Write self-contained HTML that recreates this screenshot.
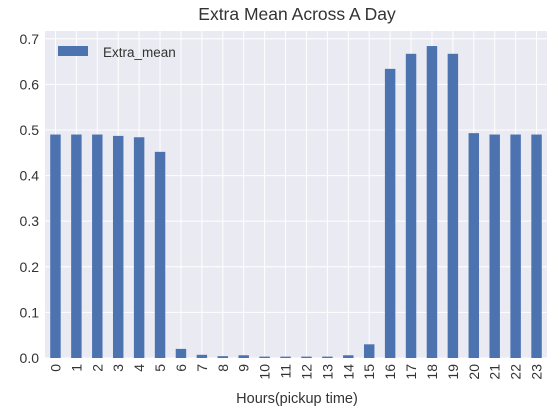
<!DOCTYPE html>
<html><head><meta charset="utf-8"><style>
body{margin:0;background:#fff;width:558px;height:414px;overflow:hidden}
text{font-family:"Liberation Sans",sans-serif;fill:#333}
</style></head><body>
<svg id="chart" width="558" height="414">
<text x="297" y="20" text-anchor="middle" font-size="17.5">Extra Mean Across A Day</text>
<rect x="45" y="31" width="502" height="327" fill="#eaeaf2"/>
<g id="grid"></g><g id="bars"></g><g id="ticks"></g>
<text x="297" y="403" text-anchor="middle" font-size="14.5">Hours(pickup time)</text>
<g>
<rect x="58" y="46" width="30" height="10" fill="#4c72b0"/>
<text x="103" y="57" font-size="13.5">Extra_mean</text>
</g>
</svg>
<script>
const categories=["0","1","2","3","4","5","6","7","8","9","10","11","12","13","14","15","16","17","18","19","20","21","22","23"];
const values=[0.49,0.49,0.49,0.487,0.484,0.452,0.02,0.007,0.004,0.006,0.003,0.003,0.003,0.003,0.006,0.03,0.634,0.667,0.684,0.667,0.493,0.49,0.49,0.49];
const yTicks=[0,0.1,0.2,0.3,0.4,0.5,0.6,0.7];
const L=45,R=547,T=31,B=358,ymax=0.717;
const ns="http://www.w3.org/2000/svg";
const step=(R-L)/categories.length;
const xc=i=>L+step*(i+0.5);
const y=v=>B-(v/ymax)*(B-T);
const g=document.getElementById('grid'),bg=document.getElementById('bars'),tg=document.getElementById('ticks');
function mk(t,a,p){const e=document.createElementNS(ns,t);for(const k in a)e.setAttribute(k,a[k]);p.appendChild(e);return e;}
yTicks.forEach(v=>{
 const l=mk('line',{x1:L,x2:R,y1:y(v),y2:y(v),stroke:'#fff','stroke-width':1},g);
 
 
 const t=mk('text',{x:L-6,y:y(v)+5,'text-anchor':'end','font-size':14},tg);
 t.textContent=v.toFixed(1);
 
 
});
categories.forEach((c,i)=>{
 const l=mk('line',{x1:xc(i),x2:xc(i),y1:T,y2:B,stroke:'#fff','stroke-width':1},g);
 
 
 const r=mk('rect',{x:xc(i)-step/4,y:y(values[i]),width:step/2,height:B-y(values[i]),fill:'#4c72b0'},bg);
 
 
 const t=mk('text',{x:0,y:0,'text-anchor':'end','font-size':14,transform:`translate(${xc(i)+5},${B+6}) rotate(-90)`},tg);
 t.textContent=c;
 
 
});
</script>
</body></html>
